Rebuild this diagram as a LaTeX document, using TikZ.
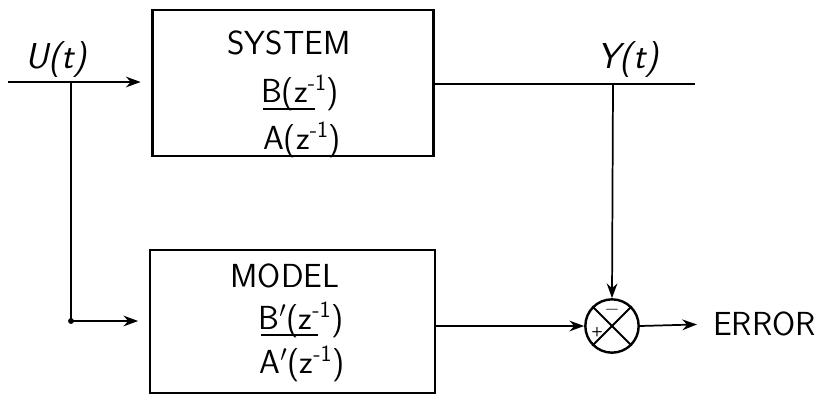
\documentclass[tikz,border=0pt]{standalone}
\usetikzlibrary{arrows.meta}
\begin{document}
\begin{tikzpicture}[x=0.75pt,y=-0.75pt,
  blk/.style={draw, line width=1.8pt, inner sep=0pt},
  conn/.style={line width=1.3pt},
  arr/.style={conn, -{Stealth[length=11pt,width=8pt]}},
  txt/.style={font=\fontsize{25}{30}\selectfont\sffamily, inner sep=0pt},
  lbl/.style={font=\fontsize{27}{32}\selectfont\sffamily\itshape, inner sep=0pt},
  fr/.style={line width=1.1pt}]
\useasboundingbox (0,0) rectangle (823,396);
% blocks
\node[blk, minimum width=210.75pt, minimum height=109.5pt] (sys) at (293,83) {};
\node[blk, minimum width=213.75pt, minimum height=107.25pt] (mod) at (292.5,321.5) {};
% block texts
\node[txt] (systxt) at (289,43) {SYSTEM};
\node[txt] (sysb) at (300,93) {B(z\textsuperscript{-1})};
\node[txt] (sysa) at (302,140) {A(z\textsuperscript{-1})};
\coordinate (sf1) at (263,109);
\coordinate (sf2) at (315,109);
\draw[fr] (sf1) -- (sf2);
\node[txt] (modtxt) at (285,276) {MODEL};
\node[txt] (modb) at (301,320) {B$'$(z\textsuperscript{-1})};
\node[txt] (moda) at (302,364) {A$'$(z\textsuperscript{-1})};
\coordinate (mf1) at (261,335);
\coordinate (mf2) at (318,335);
\draw[fr] (mf1) -- (mf2);
% input side
\coordinate (in) at (8,82);
\coordinate (j1) at (71,82);
\coordinate (j2) at (71,321);
\draw[conn] (in) -- (j1);
\draw[arr, shorten >=8pt] (j1) -- (sys.west |- j1);
\draw[conn] (j1) -- (j2);
\fill (j2) circle (2.2pt);
\draw[arr, shorten >=8pt] (j2) -- (mod.west |- j2);
\node[lbl] (ulab) at (56,60) {U(t)};
% output side
\coordinate (yend) at (695,84);
\coordinate (j3) at (613,84);
\draw[conn] (sys.east |- yend) -- (yend);
\node[lbl] (ylab) at (628,60) {Y(t)};
% summing junction
\node[draw, circle, line width=1.8pt, minimum size=40pt, inner sep=0pt] (sum) at (612,326) {};
\draw[line width=1.5pt] (sum.north west) -- (sum.south east);
\draw[line width=1.5pt] (sum.north east) -- (sum.south west);
\node[font=\Large\sffamily\bfseries, inner sep=0pt] (minus) at (612,310) {$-$};
\node[font=\sffamily\bfseries, inner sep=0pt] (plus) at (597,332) {+};
\draw[arr] (j3) -- (sum.north);
\draw[arr] (mod.east |- sum) -- (sum.west);
\node[txt, anchor=west] (err) at (713,324) {ERROR};
\draw[arr, shorten >=12pt] (sum.east) -- (err.west);
\end{tikzpicture}
\end{document}
